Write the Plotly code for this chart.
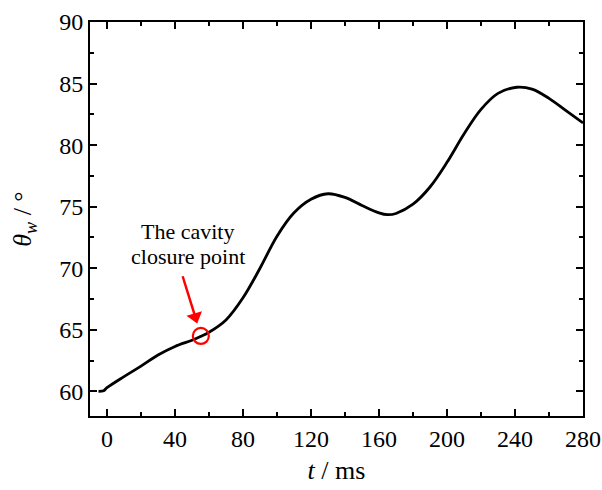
import plotly.graph_objects as go

t_ms = [-5, -2, 0, 10, 20, 30, 40, 50, 55, 60, 70, 80, 90, 100, 110, 120, 130, 140,
        150, 160, 165, 170, 180, 190, 200, 210, 220, 230, 241, 250, 260, 270, 280]
theta_w = [60.0, 60.05, 60.3, 61.2, 62.05, 62.95, 63.65, 64.15, 64.45, 64.8, 65.8, 67.6,
           70.0, 72.6, 74.5, 75.6, 76.05, 75.75, 75.1, 74.5, 74.35, 74.45, 75.2, 76.6,
           78.6, 80.9, 82.9, 84.2, 84.7, 84.55, 83.8, 82.8, 81.8]

closure_t = [55.2]
closure_theta = [64.5]

# arrow pointing at the closure point: tail -> head
arrow_t = [44.5, 51.6]
arrow_theta = [69.35, 66.2]
arrow_head_t = [51.9]
arrow_head_theta = [66.05]

label_lines = ["The cavity", "closure point"]
label_t = 47.5
label_theta = [72.98, 70.95]

x_ticks = [0, 40, 80, 120, 160, 200, 240, 280]
y_ticks = [60, 65, 70, 75, 80, 85, 90]

FONT = "Liberation Serif, Times New Roman, serif"

fig = go.Figure()
fig.add_trace(go.Scatter(x=t_ms, y=theta_w, mode="lines",
                         line=dict(color="black", width=2.8, shape="spline", smoothing=1.0),
                         hoverinfo="skip", showlegend=False))
fig.add_trace(go.Scatter(x=closure_t, y=closure_theta, mode="markers",
                         marker=dict(symbol="circle-open", size=16, color="red",
                                     line=dict(color="red", width=2.2)),
                         showlegend=False))
fig.add_trace(go.Scatter(x=arrow_t, y=arrow_theta, mode="lines",
                         line=dict(color="red", width=2.5), showlegend=False,
                         hoverinfo="skip"))
fig.add_trace(go.Scatter(x=arrow_head_t, y=arrow_head_theta, mode="markers",
                         marker=dict(symbol="triangle-down", size=14, color="red",
                                     angle=-16.6, line=dict(width=0)),
                         showlegend=False, hoverinfo="skip"))

for txt, yv in zip(label_lines, label_theta):
    fig.add_annotation(x=label_t, y=yv, xref="x", yref="y", showarrow=False,
                       text=txt, font=dict(family=FONT, size=22, color="black"),
                       align="center")

axis_common = dict(showline=True, linecolor="black", linewidth=2, mirror="ticks",
                   ticks="inside", ticklen=7, tickwidth=2, tickcolor="black",
                   showgrid=False, zeroline=False, automargin=False,
                   tickfont=dict(family=FONT, size=24, color="black"))

fig.update_xaxes(range=[-10, 280], tickvals=x_ticks,
                 minor=dict(ticks="inside", ticklen=4, tickwidth=2, dtick=20,
                            tick0=0, tickcolor="black", showgrid=False),
                 title=dict(text="<i>t</i> / ms", font=dict(family=FONT, size=26, color="black"),
                            standoff=10),
                 **axis_common)
fig.update_yaxes(range=[58, 90], tickvals=y_ticks,
                 minor=dict(ticks="inside", ticklen=4, tickwidth=2, dtick=2.5,
                            tick0=0, tickcolor="black", showgrid=False),
                 title=dict(text="<i>θ</i><sub><i>w</i></sub> / °",
                            font=dict(family=FONT, size=26, color="black"), standoff=20),
                 **axis_common)

fig.update_layout(width=602, height=490, margin=dict(l=90, r=19, t=22, b=74),
                  plot_bgcolor="white", paper_bgcolor="white",
                  font=dict(family=FONT, color="black"))

fig.write_html("out.html", config={"displayModeBar": False},
               post_script="document.body.style.margin='0';document.body.style.overflow='hidden';")
